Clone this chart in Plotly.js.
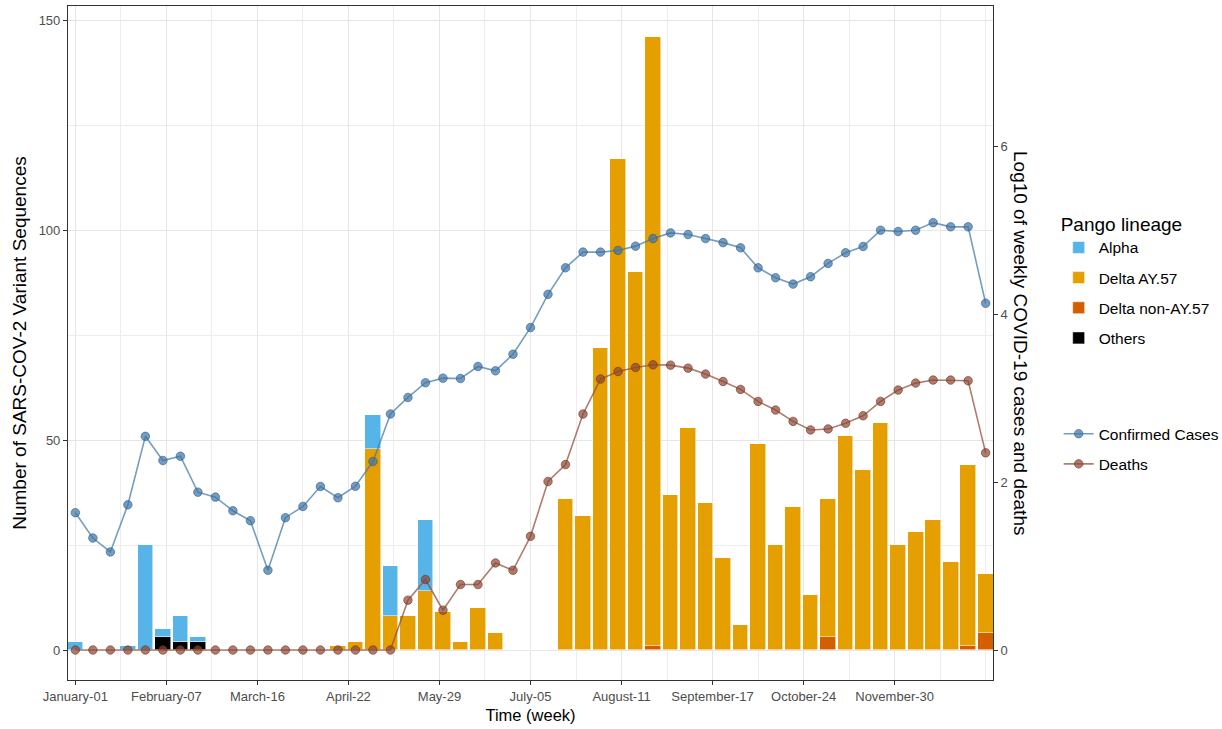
<!DOCTYPE html>
<html>
<head>
<meta charset="utf-8">
<script src="https://cdn.plot.ly/plotly-3.0.1.min.js"></script>
<style>html,body{margin:0;padding:0;background:#fff;}#chart{width:1222px;height:729px;}</style>
</head>
<body>
<div id="chart"></div>
<script>
// Week number (1 = first week of the year)
const weeks = [1,2,3,4,5,6,7,8,9,10,11,12,13,14,15,16,17,18,19,20,21,22,23,24,25,26,27,28,29,30,31,32,33,34,35,36,37,38,39,40,41,42,43,44,45,46,47,48,49,50,51,52,53];

// Variant sequence counts per week (Pango lineage)
const alpha        = [2,0,0,1,25,2,6,1,0,0,0,0,0,0,0,0,0,8,12,0,17,0,0,0,0,0,0,0,0,0,0,0,0,0,0,0,0,0,0,0,0,0,0,0,0,0,0,0,0,0,0,0,0];
const deltaAY57    = [0,0,0,0,0,0,0,0,0,0,0,0,0,0,0,1,2,48,8,8,14,9,2,10,4,0,0,0,36,32,72,117,90,145,37,53,35,22,6,49,25,34,13,33,51,43,54,25,28,31,21,43,14];
const deltaNonAY57 = [0,0,0,0,0,0,0,0,0,0,0,0,0,0,0,0,0,0,0,0,0,0,0,0,0,0,0,0,0,0,0,0,0,1,0,0,0,0,0,0,0,0,0,3,0,0,0,0,0,0,0,1,4];
const others       = [0,0,0,0,0,3,2,2,0,0,0,0,0,0,0,0,0,0,0,0,0,0,0,0,0,0,0,0,0,0,0,0,0,0,0,0,0,0,0,0,0,0,0,0,0,0,0,0,0,0,0,0,0];

// Log10 of weekly confirmed cases and deaths
const logCases  = [1.635,1.334,1.168,1.730,2.545,2.257,2.308,1.880,1.821,1.659,1.540,0.950,1.576,1.710,1.948,1.813,1.951,2.245,2.811,3.008,3.183,3.238,3.234,3.377,3.325,3.523,3.840,4.236,4.552,4.739,4.739,4.759,4.810,4.900,4.968,4.949,4.900,4.852,4.790,4.552,4.434,4.358,4.446,4.604,4.731,4.806,5.000,4.985,5.000,5.090,5.040,5.040,4.130];
const logDeaths = [0,0,0,0,0,0,0,0,0,0,0,0,0,0,0,0,0,0,0,0.594,0.840,0.475,0.780,0.780,1.037,0.950,1.354,2.007,2.209,2.810,3.227,3.317,3.365,3.397,3.393,3.357,3.286,3.198,3.104,2.961,2.858,2.723,2.621,2.633,2.700,2.790,2.961,3.096,3.179,3.215,3.215,3.207,2.348];

// x-axis tick positions (week) and labels
const tickWeeks  = [1,6.2,11.4,16.6,21.8,27,32.2,37.4,42.6,47.8];
const tickLabels = ["January-01","February-07","March-16","April-22","May-29","July-05","August-11","September-17","October-24","November-30"];

const FONT = "Liberation Sans, Arial, Helvetica, sans-serif";
const barLine = {color: "rgba(255,255,255,0.9)", width: 0.6};

function barTrace(name, y, color, rank) {
  return {type: "bar", name: name, x: weeks, y: y, width: 0.9,
          marker: {color: color, line: barLine}, legend: "legend", legendrank: rank,
          legendgroup: name,
          hovertemplate: name + ": %{y}<extra></extra>"};
}

const traces = [
  barTrace("Others", others, "#000000", 4),
  barTrace("Delta non-AY.57", deltaNonAY57, "#D55E00", 3),
  barTrace("Delta AY.57", deltaAY57, "#E69F00", 2),
  barTrace("Alpha", alpha, "#56B4E9", 1),
  {type: "scatter", mode: "lines+markers", name: "Confirmed Cases", x: weeks, y: logCases, yaxis: "y2",
   line: {color: "rgba(70,125,170,0.75)", width: 1.6},
   marker: {color: "rgba(60,115,165,0.7)", size: 8.5, line: {color: "rgba(45,90,135,0.6)", width: 1}},
   legend: "legend2", legendrank: 1, legendgroup: "cases"},
  {type: "scatter", mode: "lines+markers", name: "Deaths", x: weeks, y: logDeaths, yaxis: "y2",
   line: {color: "rgba(150,80,60,0.75)", width: 1.6},
   marker: {color: "rgba(140,70,50,0.7)", size: 8.5, line: {color: "rgba(110,50,35,0.6)", width: 1}},
   legend: "legend2", legendrank: 2, legendgroup: "deaths"}
];

const yMin = -7.14, yMax = 153.4;
const layout = {
  width: 1222, height: 729,
  margin: {l: 68, r: 229, t: 6, b: 49, autoexpand: false},
  paper_bgcolor: "#ffffff", plot_bgcolor: "#ffffff",
  font: {family: FONT, color: "#000000"},
  barmode: "stack", bargap: 0,
  xaxis: {
    range: [0.58, 53.42], tickmode: "array", tickvals: tickWeeks, ticktext: tickLabels,
    ticks: "outside", ticklen: 4, tickcolor: "#333333", tickwidth: 1.1,
    tickfont: {size: 13, color: "#4D4D4D", family: FONT},
    showgrid: true, gridcolor: "#E6E6E6", gridwidth: 1.1,
    minor: {tickmode: "linear", tick0: 1, dtick: 2.6, showgrid: true, gridcolor: "#EDEDED", gridwidth: 0.7, ticks: ""},
    showline: true, linecolor: "#333333", linewidth: 1.1, mirror: true, zeroline: false,
    title: {text: "Time (week)", font: {size: 16.5, color: "#000000", family: FONT}, standoff: 6}
  },
  yaxis: {
    range: [yMin, yMax], tickmode: "array", tickvals: [0, 50, 100, 150],
    ticks: "outside", ticklen: 4, tickcolor: "#333333", tickwidth: 1.1,
    tickfont: {size: 13, color: "#4D4D4D", family: FONT},
    showgrid: true, gridcolor: "#E6E6E6", gridwidth: 1.1,
    minor: {tickmode: "array", tickvals: [25, 75, 125], showgrid: true, gridcolor: "#EDEDED", gridwidth: 0.7, ticks: ""},
    showline: true, linecolor: "#333333", linewidth: 1.1, mirror: true, zeroline: false,
    title: {text: "Number of SARS-COV-2 Variant Sequences", font: {size: 19, color: "#000000", family: FONT}, standoff: 6}
  },
  yaxis2: {
    overlaying: "y", side: "right", range: [yMin / 20, yMax / 20],
    tickmode: "array", tickvals: [0, 2, 4, 6],
    ticks: "outside", ticklen: 4, tickcolor: "#333333", tickwidth: 1.1,
    tickfont: {size: 13, color: "#4D4D4D", family: FONT},
    showgrid: false, zeroline: false, showline: false
  },
  legend: {
    title: {text: "Pango lineage", font: {size: 19, color: "#000000", family: FONT}},
    x: 1.071, xanchor: "left", y: 0.703, yanchor: "top",
    font: {size: 15.5, color: "#000000", family: FONT},
    bgcolor: "rgba(0,0,0,0)", traceorder: "grouped", tracegroupgap: 7, itemwidth: 30
  },
  legend2: {
    x: 1.071, xanchor: "left", y: 0.39, yanchor: "top",
    font: {size: 15.5, color: "#000000", family: FONT},
    bgcolor: "rgba(0,0,0,0)", traceorder: "grouped", tracegroupgap: 7, itemwidth: 30
  },
  annotations: [{
    text: "Log10 of weekly COVID-19 cases and deaths",
    xref: "paper", yref: "paper", x: 1.0, xshift: 28, y: 0.5, yshift: 0,
    xanchor: "center", yanchor: "middle", textangle: 90, showarrow: false,
    font: {size: 19, color: "#000000", family: FONT}
  }]
};

Plotly.newPlot("chart", traces, layout, {displayModeBar: false, responsive: false});
</script>
</body>
</html>
